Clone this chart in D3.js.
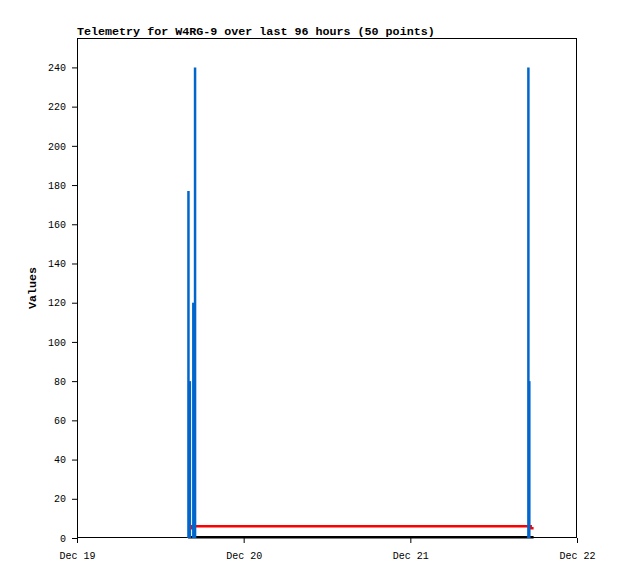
<!DOCTYPE html>
<html>
<head>
<meta charset="utf-8">
<script src="https://cdn.jsdelivr.net/npm/d3@7"></script>
<style>
  body { margin: 0; background: #fff; }
  svg { display: block; }
  .axis text { font-family: "Liberation Mono", "DejaVu Sans Mono", monospace; font-size: 10px; fill: #000; }
  .axis path { display: none; }
  .axis line { stroke: #000; }
</style>
</head>
<body>
<div class="chart"></div>
<script>
// blue impulse series
var barTimes = ["2023-12-19 16:03", "2023-12-19 16:15", "2023-12-19 16:45", "2023-12-19 17:00", "2023-12-21 17:00", "2023-12-21 17:08"];
var barValues = [177, 80, 120, 240, 240, 80];

// red step series
var redTimes = ["2023-12-19 16:00", "2023-12-19 16:35", "2023-12-21 17:20", "2023-12-21 17:45"];
var redValues = [5, 6, 5, 5];

// black baseline series
var blackTimes = ["2023-12-19 16:00", "2023-12-21 17:45"];
var blackValues = [0.4, 0.4];

var xTicks = ["2023-12-19 00:00", "2023-12-20 00:00", "2023-12-21 00:00", "2023-12-22 00:00"];
var yTicks = [0, 20, 40, 60, 80, 100, 120, 140, 160, 180, 200, 220, 240];

var title = "Telemetry for W4RG-9 over last 96 hours (50 points)";

var parse = d3.timeParse("%Y-%m-%d %H:%M");

/*dimensions*/
var width = 618, height = 579;
var margin = {top: 38, bottom: 41, left: 77, right: 41};

var xScale = d3.scaleTime()
  .domain([parse(xTicks[0]), parse(xTicks[3])])
  .range([margin.left, width - margin.right]);

var yScale = d3.scaleLinear()
  .domain([0, 255])
  .range([height - margin.bottom, margin.top]);

var canvas = d3.select(".chart").append("svg")
  .attr("width", width)
  .attr("height", height);

var mono = '"Liberation Mono", "DejaVu Sans Mono", monospace';

// title
canvas.append("text")
  .attr("x", margin.left)
  .attr("y", 35)
  .attr("font-family", mono)
  .attr("font-size", "11.7px")
  .attr("font-weight", "bold")
  .text(title);

// axes
canvas.append("g")
  .attr("class", "axis y-axis")
  .attr("transform", "translate(" + margin.left + ",0)")
  .call(d3.axisLeft(yScale).tickValues(yTicks).tickSize(5).tickPadding(6));

canvas.append("g")
  .attr("class", "axis x-axis")
  .attr("transform", "translate(0," + (height - margin.bottom) + ")")
  .call(d3.axisBottom(xScale).tickValues(xTicks.map(parse)).tickSize(5).tickPadding(9)
    .tickFormat(d3.timeFormat("%b %d")));

// y label
canvas.append("text")
  .attr("transform", "translate(36," + ((margin.top + height - margin.bottom) / 2) + ") rotate(-90)")
  .attr("text-anchor", "middle")
  .attr("font-family", mono)
  .attr("font-size", "11.7px")
  .attr("font-weight", "bold")
  .text("Values");

// plot frame
canvas.append("rect")
  .attr("x", margin.left + 0.5)
  .attr("y", margin.top + 0.5)
  .attr("width", width - margin.left - margin.right - 1)
  .attr("height", height - margin.top - margin.bottom - 1)
  .attr("fill", "none")
  .attr("stroke", "#000");

/*plot data*/
var g = canvas.append("g");

var stepLine = d3.line()
  .curve(d3.curveStepAfter)
  .x(function(d) { return xScale(d.t); })
  .y(function(d) { return yScale(d.v); });

function series(times, values) {
  return times.map(function(t, i) { return {t: parse(t), v: values[i]}; });
}

g.append("path")
  .datum(series(blackTimes, blackValues))
  .attr("d", stepLine)
  .attr("fill", "none")
  .attr("stroke", "#000")
  .attr("stroke-width", 2.5);

g.append("path")
  .datum(series(redTimes, redValues))
  .attr("d", stepLine)
  .attr("fill", "none")
  .attr("stroke", "#ff0000")
  .attr("stroke-width", 2.5);

g.selectAll(".bar")
  .data(series(barTimes, barValues))
  .enter().append("line")
  .attr("class", "bar")
  .attr("x1", function(d) { return xScale(d.t); })
  .attr("x2", function(d) { return xScale(d.t); })
  .attr("y1", yScale(0))
  .attr("y2", function(d) { return yScale(d.v); })
  .attr("stroke", "#0066cc")
  .attr("stroke-width", 2.5);
</script>
</body>
</html>
